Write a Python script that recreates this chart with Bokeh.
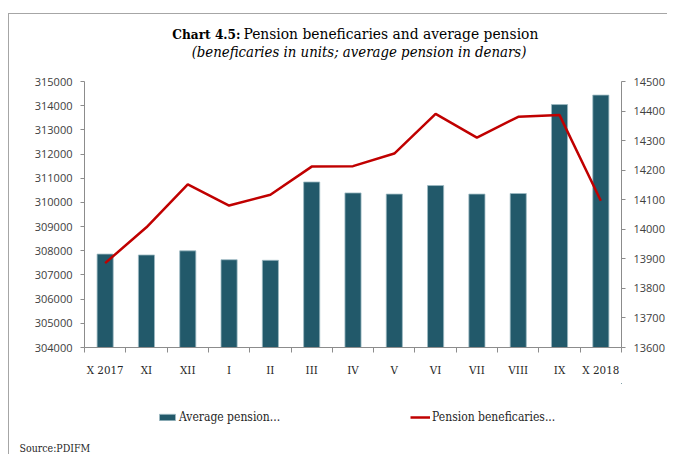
from bokeh.plotting import figure
from bokeh.layouts import column
from bokeh.models import (Range1d, LinearAxis, FixedTicker, Legend, LegendItem, Label, Title,
                          BasicTickFormatter)
from bokeh.embed import file_html
from bokeh.resources import INLINE

months = ["X 2017", "XI", "XII", "I", "II", "III", "IV", "V", "VI", "VII", "VIII", "IX", "X 2018"]
avg_pension = [13916, 13913, 13927, 13897, 13895, 14160, 14123, 14119, 14148, 14119, 14121, 14422, 14454]
beneficiaries = [307490, 308970, 310750, 309870, 310320, 311480, 311500, 312020, 313660, 312680, 313540, 313610, 310070]
left_ticks = list(range(304000, 315001, 1000))
right_ticks = list(range(13600, 14501, 100))

SERIF = "DejaVu Serif Condensed"
SANS = "Open Sans"
AXIS_GRAY = "#8c8c8c"
LABEL_GRAY = "#404040"
TEXT = "#262626"
BAR_FILL = "#22596a"
BAR_EDGE = "#9dbac3"
LINE_RED = "#c00000"
W = 658
BORDER_L, BORDER_R = 75, 44

n = len(months)
xs = [i + 0.5 for i in range(n)]


def blank(height):
    f = figure(width=W, height=height, x_range=Range1d(-2, -1), y_range=Range1d(-2, -1),
               x_axis_location=None, y_axis_location=None,
               output_backend="svg", toolbar_location=None,
               min_border_left=BORDER_L, min_border_right=BORDER_R,
               min_border_top=0, min_border_bottom=0)
    f.outline_line_color = None
    f.grid.visible = False
    return f


# ---------------- header (titles); label x is measured from the plot-area left edge
head = blank(57)
head.add_layout(Label(x=156, y=38, x_units="screen", y_units="screen", text="Chart 4.5:",
                      text_font=SERIF, text_font_size="13.5px", text_font_style="bold",
                      text_align="right", text_baseline="middle", text_color="#000000"))
head.add_layout(Label(x=159, y=38, x_units="screen", y_units="screen",
                      text="Pension beneficaries and average pension",
                      text_font=SERIF, text_font_size="15.4px",
                      text_align="left", text_baseline="middle", text_color="#000000"))
head.add_layout(Label(x=274.5, y=20, x_units="screen", y_units="screen",
                      text="(beneficaries in units; average pension in denars)",
                      text_font=SERIF, text_font_size="14.8px", text_font_style="italic",
                      text_align="center", text_baseline="middle", text_color="#000000"))

# ---------------- main chart
p = figure(width=W, height=312,
           x_range=Range1d(0, n), y_range=Range1d(left_ticks[0], left_ticks[-1]),
           output_backend="svg", toolbar_location=None,
           min_border_left=BORDER_L, min_border_right=BORDER_R, min_border_top=10, min_border_bottom=36)
p.extra_y_ranges = {"pension": Range1d(right_ticks[0], right_ticks[-1])}
p.outline_line_color = None
p.xgrid.visible = False
p.ygrid.visible = False

p.vbar(x=xs, top=avg_pension, bottom=right_ticks[0], width=0.39, y_range_name="pension",
       fill_color=BAR_FILL, line_color=BAR_EDGE, line_width=0.8)
p.line(xs, beneficiaries, line_color=LINE_RED, line_width=2.5)


def style_axis(ax):
    ax.axis_line_color = AXIS_GRAY
    ax.major_tick_line_color = AXIS_GRAY
    ax.minor_tick_line_color = AXIS_GRAY
    ax.major_label_text_color = LABEL_GRAY


ly = p.yaxis[0]
ly.ticker = FixedTicker(ticks=left_ticks)
ly.formatter = BasicTickFormatter(use_scientific=False)
ly.major_tick_in = 0
ly.major_tick_out = 4
ly.minor_tick_out = 0
ly.major_label_standoff = 8
ly.major_label_text_font = SANS
ly.major_label_text_font_size = "11px"
style_axis(ly)

ry = LinearAxis(y_range_name="pension", ticker=FixedTicker(ticks=right_ticks))
ry.major_tick_in = 0
ry.major_tick_out = 4
ry.minor_tick_out = 0
ry.major_label_standoff = 8
ry.major_label_text_font = SANS
ry.major_label_text_font_size = "11px"
style_axis(ry)
p.add_layout(ry, "right")

xa = p.xaxis[0]
xa.ticker = FixedTicker(ticks=xs, minor_ticks=list(range(n + 1)))
xa.major_label_overrides = {x: m for x, m in zip(xs, months)}
xa.major_tick_in = 0
xa.major_tick_out = 0
xa.minor_tick_in = 0
xa.minor_tick_out = 5
xa.major_label_standoff = 10
xa.major_label_text_font = SERIF
xa.major_label_text_font_size = "11.5px"
style_axis(xa)
xa.major_label_text_color = TEXT

# ---------------- footer (legend + source)
foot = blank(71)
# legend swatches take their style from renderers fed with the same series (outside the view)
lb = foot.vbar(x=xs, top=avg_pension, bottom=right_ticks[0], width=0.39,
               fill_color=BAR_FILL, line_color=BAR_EDGE, line_width=0.8)
ll = foot.line(xs, beneficiaries, line_color=LINE_RED, line_width=2.5)
legend = Legend(items=[LegendItem(label="Average pension...", renderers=[lb]),
                       LegendItem(label="Pension beneficaries...", renderers=[ll])],
                location=(73, 14), orientation="horizontal",
                padding=0, margin=0, spacing=130, label_standoff=2,
                glyph_width=20, glyph_height=8, label_height=14,
                label_text_font=SERIF, label_text_font_size="12px", label_text_color=TEXT,
                border_line_color=None, background_fill_alpha=0)
foot.add_layout(legend)
foot.add_layout(Title(text="Source:PDIFM", text_font=SERIF, text_font_size="10.5px",
                      text_font_style="normal", align="left", offset=-65,
                      vertical_align="bottom", standoff=2, text_color=TEXT), "below")

layout = column(head, p, foot, spacing=0)
layout.styles = {"border-top": "1px solid #a6a6a6", "border-left": "1px solid #a6a6a6",
                 "margin-top": "13px", "margin-left": "8px"}

open("out.html", "w").write(file_html(layout, INLINE))
